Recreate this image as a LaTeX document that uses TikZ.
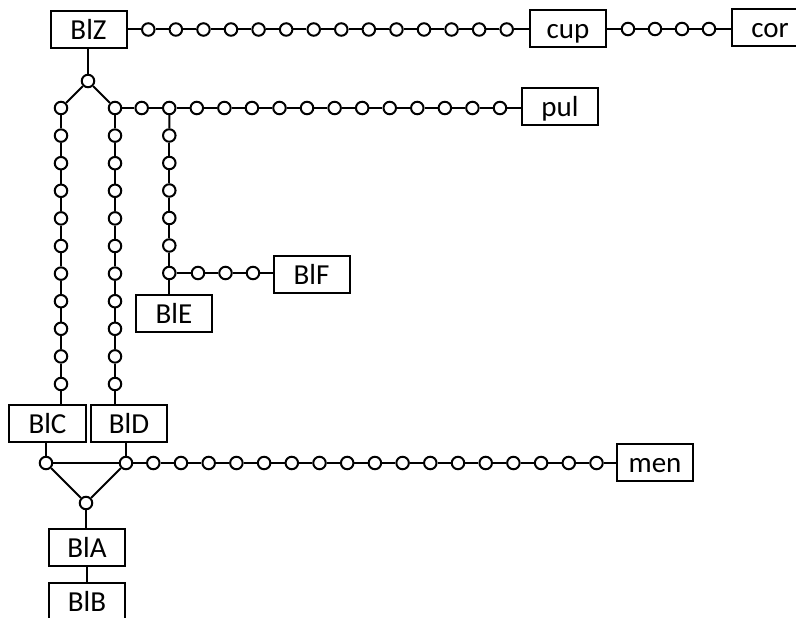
\documentclass[tikz,border=0pt]{standalone}
\usepackage{fontspec}
\setmainfont{Carlito}
\begin{document}
\begin{tikzpicture}[x=1bp,y=-1bp,
  lbl/.style={draw,line width=2bp,minimum width=76bp,minimum height=37bp,
    inner sep=0pt,text height=19bp,text depth=0bp,
    font=\fontsize{29bp}{32bp}\selectfont},
  bead/.style={circle,draw,fill=white,line width=2bp,minimum size=12.5bp,inner sep=0pt},
  wire/.style={line width=2bp}]
\useasboundingbox (0,0) rectangle (796,618);
\clip (0,0) rectangle (796,618);

% labelled boxes
\node[lbl] (BZ) at (88.5,30) {BlZ};
\node[lbl] (cup) at (568,29) {cup};
\node[lbl] (cor) at (770,28) {cor};
\node[lbl] (pul) at (560,107) {pul};
\node[lbl] (BF) at (311.5,274.5) {BlF};
\node[lbl] (BE) at (174,313.5) {BlE};
\node[lbl] (BC) at (47.5,423.5) {BlC};
\node[lbl] (BD) at (129,423.5) {BlD};
\node[lbl] (men) at (655,462.5) {men};
\node[lbl] (BA) at (87,547.5) {BlA};
\node[lbl] (BB) at (87,601.5) {BlB};

% top chain BlZ -> cup -> cor
\foreach \i in {0,...,13} \node[bead] (t\i) at ({148.3+27.57*\i},29.5) {};
\foreach \i in {0,...,3} \node[bead] (u\i) at ({628+27*\i},29) {};
\draw[wire] (BZ.east |- t0) -- (t0);
\foreach \i [evaluate=\i as \j using int(\i+1)] in {0,...,12} \draw[wire] (t\i) -- (t\j);
\draw[wire] (t13) -- (cup.west |- t13);
\draw[wire] (cup.east |- u0) -- (u0);
\foreach \i [evaluate=\i as \j using int(\i+1)] in {0,...,2} \draw[wire] (u\i) -- (u\j);
\draw[wire] (u3) -- (cor.west |- u3);

% fork below BlZ
\node[bead] (J) at (88,81) {};
\foreach \i in {0,...,10} {
  \node[bead] (l\i) at (61,{108+27.6*\i}) {};
  \node[bead] (r\i) at (115,{108+27.6*\i}) {};
}
\draw[wire] (J |- BZ.south) -- (J);
\draw[wire] (J) -- (l0);
\draw[wire] (J) -- (r0);
\foreach \i [evaluate=\i as \j using int(\i+1)] in {0,...,9} {
  \draw[wire] (l\i) -- (l\j);
  \draw[wire] (r\i) -- (r\j);
}
\draw[wire] (l10) -- (l10 |- BC.north);
\draw[wire] (r10) -- (r10 |- BD.north);

% chain to pul
\foreach \i in {0,...,13} \node[bead] (p\i) at ({141.7+27.56*\i},108) {};
\draw[wire] (r0) -- (p0);
\foreach \i [evaluate=\i as \j using int(\i+1)] in {0,...,12} \draw[wire] (p\i) -- (p\j);
\draw[wire] (p13) -- (pul.west |- p13);

% branch down to BlE / BlF
\foreach \k in {1,...,6} \node[bead] (v\k) at (169.3,{108+27.5*\k}) {};
\draw[wire] (p1) -- (v1);
\foreach \k [evaluate=\k as \m using int(\k+1)] in {1,...,5} \draw[wire] (v\k) -- (v\m);
\foreach \i in {0,...,2} \node[bead] (f\i) at ({198+27.5*\i},273) {};
\draw[wire] (v6) -- (f0);
\draw[wire] (f0) -- (f1);
\draw[wire] (f1) -- (f2);
\draw[wire] (f2) -- (BF.west |- f2);
\draw[wire] (v6) -- (v6 |- BE.north);

% triangle joining BlC and BlD to BlA
\node[bead] (cC) at (46,463) {};
\node[bead] (cD) at (126,463) {};
\node[bead] (K) at (86,503) {};
\draw[wire] (cC |- BC.south) -- (cC);
\draw[wire] (cD |- BD.south) -- (cD);
\draw[wire] (cC) -- (cD);
\draw[wire] (cC) -- (K);
\draw[wire] (cD) -- (K);
\draw[wire] (K) -- (K |- BA.north);
\draw[wire] (BA.south) -- (BB.north);

% chain to men
\foreach \i in {0,...,16} \node[bead] (m\i) at ({153.3+27.7*\i},463) {};
\draw[wire] (cD) -- (m0);
\foreach \i [evaluate=\i as \j using int(\i+1)] in {0,...,15} \draw[wire] (m\i) -- (m\j);
\draw[wire] (m16) -- (men.west |- m16);
\end{tikzpicture}
\end{document}
